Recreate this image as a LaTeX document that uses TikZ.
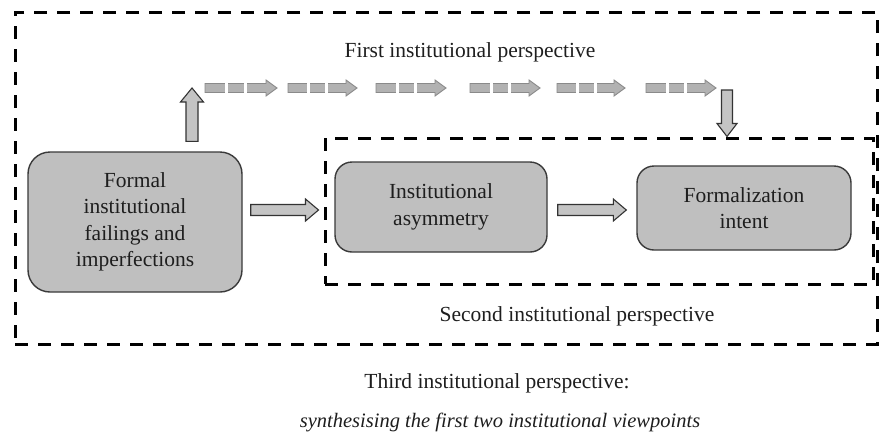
\documentclass[tikz,border=0pt]{standalone}
\usepackage{fontspec}
\setmainfont{Liberation Serif}
\usetikzlibrary{calc}
\definecolor{boxfill}{HTML}{BFBFBF}
\definecolor{boxline}{HTML}{3A3A3A}
\definecolor{arrfill}{HTML}{C4C4C4}
\definecolor{arrline}{HTML}{333333}
\definecolor{darrfill}{HTML}{B2B2B2}
\definecolor{darrline}{HTML}{8A8A8A}
\definecolor{txt}{HTML}{1E1E1E}
% #1 style, #2 shaft half width, #3 head half width, #4 head length, #5 start, #6 end
\newcommand\blockarr[6]{%
  \filldraw[#1] let \p1=#5, \p2=#6,
    \n1={atan2(\y2-\y1,\x2-\x1)}, \n2={veclen(\x2-\x1,\y2-\y1)} in
    ([shift={(\p1)},rotate=\n1]0,#2)
    -- ([shift={(\p1)},rotate=\n1]\n2-#4,#2)
    -- ([shift={(\p1)},rotate=\n1]\n2-#4,#3)
    -- ([shift={(\p1)},rotate=\n1]\n2,0)
    -- ([shift={(\p1)},rotate=\n1]\n2-#4,-#3)
    -- ([shift={(\p1)},rotate=\n1]\n2-#4,-#2)
    -- ([shift={(\p1)},rotate=\n1]0,-#2) -- cycle;}
\tikzset{
  box/.style={draw=boxline, line width=1.4pt, fill=boxfill, align=center,
    text=txt, font=\fontsize{21.5}{26.5}\selectfont, inner sep=0pt},
  lbl/.style={text=txt, font=\fontsize{21.5}{26.5}\selectfont, inner sep=0pt},
  frame/.style={draw=black, line width=3pt, dash pattern=on 13pt off 10pt, inner sep=0pt},
  barr/.style={fill=arrfill, draw=arrline, line width=1.1pt, line join=miter},
  darr/.style={fill=darrfill, draw=darrline, line width=0.9pt},
}
\begin{document}
\begin{tikzpicture}[x=1pt,y=-1pt]
\useasboundingbox[fill=white] (0,0) rectangle (880,440);
% frames
\node[frame, minimum width=862pt, minimum height=332pt] (outer) at (446,178) {};
\node[frame, minimum width=548pt, minimum height=146pt] (inner) at (599,211) {};
% boxes
\node[box, rounded corners=22pt, minimum width=214pt, minimum height=140pt] (b1) at (135,222)
  {Formal\\institutional\\failings and\\imperfections};
\node[box, rounded corners=17pt, minimum width=212pt, minimum height=90pt] (b2) at (441,207)
  {Institutional\\asymmetry};
\node[box, rounded corners=17pt, minimum width=214pt, minimum height=84pt] (b3) at (744,208)
  {Formalization\\intent};
% coordinates
\coordinate (up1) at (192,88);
\coordinate (dn0) at (727,90);
% block arrows
\blockarr{barr}{5.5}{11}{13}{($(b1.east)+(8,-12)$)}{($(inner.west)+(-5,-1)$)}
\blockarr{barr}{5.5}{11}{13}{($(b2.east)+(10,3)$)}{($(b3.west)+(-10,2)$)}
\blockarr{barr}{6}{11.5}{14}{($(b1.north)+(57,-10)$)}{(up1)}
\blockarr{barr}{5.5}{10}{13}{(dn0)}{($(inner.north)+(128,0)$)}
% dashed top arrows
\foreach \a/\b in {205/277,288/357,376/446,470/540,557/625,646/716}{
  \blockarr{darr}{4.5}{8}{11}{(\a,88)}{(\b,88)}
  \draw[white, line width=3pt] ({\a+0.3*(\b-\a)},82) -- ({\a+0.3*(\b-\a)},94)
    ({\a+0.56*(\b-\a)},82) -- ({\a+0.56*(\b-\a)},94);
}
% labels
\node[lbl] (first) at (470,52) {First institutional perspective};
\node[lbl] (second) at (577,316) {Second institutional perspective};
\node[lbl] (third) at (497,383) {Third institutional perspective:};
\node[lbl, font=\fontsize{20.5}{25}\selectfont\itshape] (synth) at (500,422)
  {synthesising the first two institutional viewpoints};
\end{tikzpicture}
\end{document}
